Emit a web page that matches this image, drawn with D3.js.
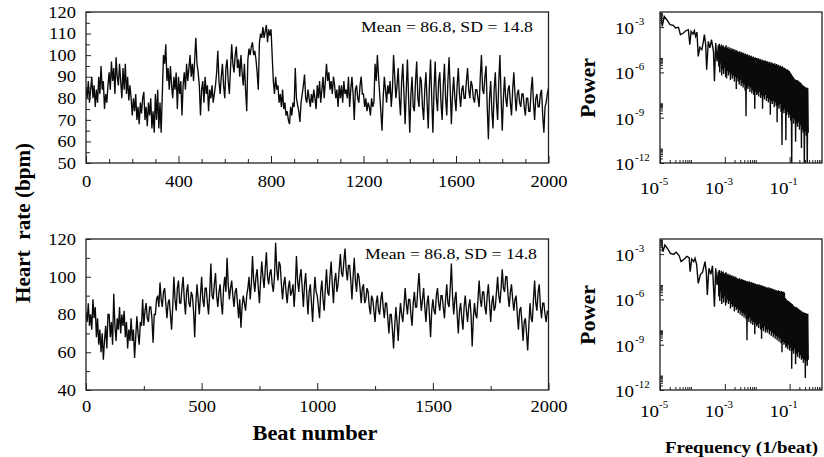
<!DOCTYPE html>
<html><head><meta charset="utf-8">
<script src="https://cdn.jsdelivr.net/npm/d3@7"></script>
<style>body{margin:0;background:#fff} svg{display:block}</style>
</head><body><svg id="c" width="824" height="457"></svg>
<script>
// ---------------- DATA ----------------
const beatStep = 5; // beats between stored samples
const hrTop = [
85,80,88,78,84,90,80,86,76,84, 78,90,82,95,84,88,75,82,78,86,
92,84,97,88,94,82,99,90,86,96, 88,80,94,84,96,82,90,79,86,80,
72,80,74,82,70,76,68,78,73,80, 83,70,76,67,78,72,80,66,74,64,
82,70,84,66,78,64,82,100,96,105, 88,94,84,95,86,80,90,84,92,75,
90,82,88,72,86,92,84,96,88,94, 100,90,96,88,98,108,96,92,86,72,
84,88,78,90,82,86,74,84,80,86, 78,82,86,92,102,88,82,90,96,86,
80,94,98,88,82,94,105,96,92,100, 104,94,98,90,100,92,86,96,84,74,
98,103,100,104,106,100,102,98,92,84, 106,110,108,113,108,111,114,106,112,109,
112,100,88,82,90,84,86,78,82,76, 84,75,78,72,74,70,68,76,72,78,
76,94,80,77,74,69,78,82,86,91, 80,78,84,80,76,82,78,84,80,75,
86,80,88,78,84,90,80,88,96,88, 92,84,88,82,90,86,80,84,76,86,
80,86,78,88,82,84,80,90,76,84, 90,82,70,84,86,80,78,86,90,82,
82,76,80,74,78,76,72,80,76,78, 96,88,100,90,82,74,65,80,90,84,
78,86,82,88,76,84,100,90,80,86, 94,80,72,88,96,82,68,84,98,80,
64,82,90,76,74,88,97,80,76,90, 88,76,70,84,92,78,66,86,98,80,
64,84,97,80,74,88,92,78,70,86, 96,80,72,88,99,84,68,82,90,80,
74,86,94,82,76,84,86,80,80,88, 94,84,80,88,86,80,78,84,84,80,
76,90,100,84,82,90,95,76,61,80, 88,74,66,84,92,78,70,88,100,80,
65,80,90,80,76,84,86,78,72,84, 92,82,74,82,84,78,76,82,82,76,
72,80,80,74,74,84,90,78,70,80, 82,76,76,82,84,72,64,76,78,82, 85];
const hrBottom = [
81,76,86,74,80,72,88,78,84,68, 78,64,72,60,70,56,66,74,62,80,
80,68,76,64,91,74,66,78,72,84, 70,80,74,82,68,76,62,72,66,78,
66,72,57,68,79,70,64,76,74,88, 74,82,86,78,76,84,84,78,65,80,
80,88,90,84,97,88,84,92,94,86, 78,86,88,80,72,84,100,88,82,94,
98,86,86,94,100,88,80,92,96,86, 84,92,90,82,68,86,96,88,80,90,
100,88,84,94,94,86,80,92,107,90, 88,96,102,90,84,92,96,86,80,94,
100,92,110,96,88,94,98,90,84,92, 94,86,78,88,73,84,90,86,82,90,
94,100,88,96,111,98,92,100,104,94, 86,98,108,100,94,104,113,100,96,102,
104,96,92,100,118,104,98,108,106,96, 88,96,100,92,86,94,98,90,92,96,
84,94,111,98,92,100,104,94,84,96, 102,90,80,92,96,86,76,90,100,92,
90,84,78,92,98,88,82,94,104,92, 90,100,108,96,86,98,102,92,96,104,
112,102,100,108,115,104,98,106,106,98, 88,100,110,98,92,102,100,94,86,94,
96,86,88,94,92,84,80,90,88,82, 76,86,90,82,80,88,92,84,78,86,
86,78,70,80,80,72,62,74,84,76, 66,78,86,80,76,84,94,86,80,88,
88,80,74,86,92,84,84,94,102,90, 82,88,94,84,76,86,90,80,68,82,
88,82,80,90,94,86,82,90,90,84, 78,88,96,86,84,94,107,90,80,88,
92,80,70,82,86,78,72,84,90,82, 76,84,88,80,63,78,86,80,78,88,
98,88,84,92,92,84,80,90,96,86, 76,86,90,82,84,92,100,90,86,94,
104,94,92,100,100,90,84,92,96,88, 82,88,90,80,72,82,84,76,66,76,
78,70,61,74,86,78,76,88,98,86, 82,92,96,84,78,86,86,80,76,82, 80];

const topXTicks = [0,400,800,1200,1600,2000];
const topXMinor = [100,200,300,500,600,700,900,1000,1100,1300,1400,1500,1700,1800,1900];
const topYTicks = [50,60,70,80,90,100,110,120];
const topYMinor = [55,65,75,85,95,105,115];
const botXTicks = [0,500,1000,1500,2000];
const botXMinor = [250,750,1250,1750];
const botYTicks = [40,60,80,100,120];
const botYMinor = [50,70,90,110];
const statsText = "Mean = 86.8, SD = 14.8";

// power spectra: log10 frequency / log10 power, low-frequency part
const specTopLowF = [-4.97,-4.95,-4.93,-4.87,-4.79,-4.69,-4.59,-4.52,-4.43,-4.37,-4.28,-4.2,-4.125,-4.08,-4.04,-3.98,-3.94,-3.9,-3.86,-3.82,-3.77,-3.71,-3.66,-3.63,-3.59,-3.56,-3.51,-3.46,-3.41,-3.35,-3.32,-3.28,-3.24];
const specTopLowP = [-2.07,-2.6,-2.95,-2.29,-2.51,-2.84,-2.88,-3.06,-3.02,-3.5,-3.39,-3.24,-3.17,-4.16,-3.28,-3.46,-3.24,-3.61,-3.33,-4.94,-4.34,-4.49,-3.94,-3.5,-4.16,-5.82,-3.94,-4.38,-3.83,-4.6,-6.59,-4.05,-5.27];
const specBotLowF = [-4.95,-4.93,-4.91,-4.85,-4.76,-4.68,-4.58,-4.5,-4.41,-4.35,-4.25,-4.17,-4.1,-4.07,-4.02,-3.96,-3.92,-3.87,-3.82,-3.75,-3.69,-3.61,-3.57,-3.54,-3.49,-3.43,-3.38,-3.32,-3.28,-3.24];
const specBotLowP = [-2.07,-2.5,-2.84,-2.4,-2.66,-2.95,-3.02,-2.88,-3.1,-3.5,-3.33,-3.15,-3.24,-4.16,-3.33,-3.5,-3.28,-3.68,-4.94,-4.34,-4.21,-3.5,-4.21,-5.71,-3.94,-4.34,-3.77,-6.48,-3.94,-5.05];
// dense part: frequency grid start/step (log10), peak and dip powers (log10)
const denseStart = -3.2, denseStep = 0.03;
const specTopHi = [
-4.2,-4.1,-4.3,-4.15,-4.25,-4.2,-4.35,-4.3,-4.2,-4.4, -4.3,-4.45,-4.35,-4.5,-4.4,-4.5,-4.45,-4.6,-4.5,-4.55,
-4.6,-4.65,-4.6,-4.7,-4.65,-4.75,-4.7,-4.8,-4.75,-4.85, -4.8,-4.9,-4.85,-4.95,-4.9,-5.0,-4.95,-5.05,-5.0,-5.05,
-5.1,-5.05,-5.15,-5.1,-5.2,-5.15,-5.2,-5.25,-5.2,-5.3, -5.25,-5.3,-5.35,-5.3,-5.4,-5.35,-5.4,-5.45,-5.4,-5.5,
-5.45,-5.55,-5.5,-5.6,-5.55,-5.65,-5.6,-5.7,-5.7,-5.75, -5.8,-5.8,-5.85,-5.9,-6.0,-6.1,-6.2,-6.3,-6.4,-6.45,
-6.5,-6.5,-6.55,-6.6,-6.65,-6.7,-6.8,-6.85,-6.9,-6.95, -7.0,-7.0,-7.05];
const specTopLo = [
-5.6,-6.0,-5.4,-6.2,-5.8,-6.1,-5.7,-6.3,-6.4,-5.9, -6.2,-6.0,-6.5,-6.1,-6.4,-6.2,-6.6,-6.3,-7.1,-6.4,
-6.6,-6.8,-6.5,-6.9,-6.7,-7.0,-6.8,-7.2,-8.9,-7.0, -7.1,-6.9,-7.3,-7.0,-7.4,-7.2,-7.5,-8.4,-7.3,-7.5,
-7.4,-7.6,-7.3,-7.7,-7.5,-8.4,-7.6,-7.8,-7.5,-7.9, -7.7,-8.0,-7.8,-8.8,-7.9,-8.1,-7.9,-8.3,-8.0,-8.2,
-9.3,-8.2,-8.4,-8.1,-8.6,-10.8,-8.5,-8.7,-8.4,-10.5, -8.8,-8.6,-9.0,-8.8,-9.2,-12.5,-9.0,-9.4,-9.1,-10.6,
-9.4,-9.6,-9.3,-9.8,-9.5,-11.0,-9.8,-10.0,-12.5,-9.9, -10.2,-12.5,-10.0];
const specBotHi = [
-4.15,-4.05,-4.25,-4.1,-4.2,-4.15,-4.3,-4.25,-4.2,-4.35, -4.3,-4.4,-4.35,-4.45,-4.4,-4.5,-4.45,-4.55,-4.5,-4.6,
-4.6,-4.65,-4.6,-4.7,-4.65,-4.7,-4.7,-4.75,-4.75,-4.8, -4.8,-4.85,-4.8,-4.9,-4.85,-4.9,-4.9,-4.95,-4.95,-5.0,
-5.0,-5.05,-5.0,-5.1,-5.05,-5.1,-5.1,-5.15,-5.15,-5.2, -5.2,-5.25,-5.2,-5.3,-5.25,-5.3,-5.3,-5.35,-5.35,-5.4,
-5.4,-5.45,-5.4,-5.45,-5.5,-5.45,-5.5,-5.5,-5.55,-5.9, -6.0,-6.05,-6.1,-6.15,-6.2,-6.25,-6.3,-6.4,-6.45,-6.5,
-6.5,-6.55,-6.6,-6.65,-6.7,-6.75,-6.8,-6.85,-6.85,-6.9, -6.9,-6.95,-6.95];
const specBotLo = [
-5.8,-6.1,-5.5,-6.3,-5.9,-6.2,-5.8,-6.4,-6.2,-6.0, -6.3,-6.1,-6.6,-6.3,-6.5,-6.4,-6.8,-6.5,-6.7,-6.6,
-6.9,-6.7,-7.0,-6.8,-7.1,-6.9,-7.2,-7.0,-7.3,-8.7, -7.3,-7.5,-7.2,-7.6,-7.4,-7.7,-7.5,-8.3,-7.6,-7.8,
-7.7,-7.9,-7.6,-8.0,-8.6,-7.9,-8.1,-7.8,-8.2,-8.0, -8.2,-8.0,-8.3,-8.1,-8.4,-8.2,-8.5,-8.3,-8.6,-8.4,
-8.7,-8.5,-8.8,-8.6,-8.9,-9.5,-8.8,-9.0,-8.9,-9.2, -9.1,-9.3,-9.0,-9.4,-9.2,-10.6,-9.4,-9.6,-9.3,-10.3,
-9.6,-9.8,-9.5,-9.9,-9.7,-10.0,-9.9,-10.2,-10.0,-11.2, -10.1,-10.4,-10.0];
const specXTicks = [-5,-3,-1];
const specYTicks = [-3,-6,-9,-12];

// ---------------- DRAWING ----------------
const FONT = '"Liberation Serif","Times New Roman",Times,serif';
const svg = d3.select("#c");
svg.append("rect").attr("width",824).attr("height",457).attr("fill","#fff");
let clipN = 0;
function stretch(sel, k){
  sel.each(function(){ const l=this.getComputedTextLength(); d3.select(this).attr("textLength", l*k).attr("lengthAdjust","spacingAndGlyphs"); });
}
function clip(g, x0, y0, w, h){
  const id = "clip"+(clipN++);
  g.append("clipPath").attr("id",id).append("rect").attr("x",x0).attr("y",y0).attr("width",w).attr("height",h);
  return "url(#"+id+")";
}

function seriesPanel(c){
  const x = d3.scaleLinear().domain([0,2000]).range([86,548.5]);
  const y = d3.scaleLinear().domain(c.yDomain).range([c.bottom, c.top]);
  const g = svg.append("g");
  const cp = clip(g, 86, c.top, 462.5, c.bottom-c.top);
  g.append("path").datum(c.values)
    .attr("d", d3.line().x((d,i)=>x(i*beatStep)).y(d=>y(d)))
    .attr("fill","none").attr("stroke","#0a0a0a").attr("stroke-width",1.35)
    .attr("stroke-linejoin","miter").attr("clip-path",cp);
  const styleAxis = s => { s.select(".domain").remove(); s.attr("font-family",FONT).attr("font-size",16.5); s.selectAll("line").attr("stroke","#222"); s.selectAll("text").attr("fill","#000"); };
  const gx = g.append("g").attr("transform",`translate(0,${c.bottom})`)
    .call(d3.axisBottom(x).tickValues(c.xTicks).tickSize(-7).tickPadding(c.xPad).tickFormat(d3.format("d"))).call(styleAxis);
  g.append("g").attr("transform",`translate(0,${c.bottom})`)
    .call(d3.axisBottom(x).tickValues(c.xMinor).tickSize(-4).tickFormat("")).call(styleAxis);
  const gy = g.append("g").attr("transform","translate(86,0)")
    .call(d3.axisLeft(y).tickValues(c.yTicks).tickSize(-5).tickPadding(10).tickFormat(d3.format("d"))).call(styleAxis);
  g.append("g").attr("transform","translate(86,0)")
    .call(d3.axisLeft(y).tickValues(c.yMinor).tickSize(-4).tickFormat("")).call(styleAxis);
  stretch(gx.selectAll("text"),1.12); stretch(gy.selectAll("text"),1.12);
  g.append("rect").attr("x",86).attr("y",c.top).attr("width",462.5).attr("height",c.bottom-c.top)
    .attr("fill","none").attr("stroke","#222").attr("stroke-width",1.3);
  const t = g.append("text").attr("x",c.statX).attr("y",c.statY).attr("font-family",FONT).attr("font-size",15.5).text(statsText);
  t.attr("textLength",172).attr("lengthAdjust","spacingAndGlyphs");
}

function spectrumPanel(c){
  const x = d3.scaleLog().domain([1e-5,1]).range([660,822]);
  const y = d3.scaleLog().domain([1e-12,1e-2]).range([c.bottom, c.top]);
  const g = svg.append("g");
  const pts = [];
  const n = Math.min(c.lowF.length, c.lowP.length);
  for(let i=0;i<n;i++) pts.push([Math.pow(10,c.lowF[i]), Math.pow(10,c.lowP[i])]);
  const m = Math.min(c.hi.length, c.lo.length);
  for(let i=0;i<m;i++){
    const f = denseStart + i*denseStep;
    pts.push([Math.pow(10,f), Math.pow(10,c.hi[i])]);
    pts.push([Math.pow(10,f+denseStep/2), Math.pow(10,c.lo[i])]);
  }
  const cp = clip(g, 660, c.top, 162, c.bottom-c.top);
  g.append("path").datum(pts).attr("d", d3.line().x(d=>x(d[0])).y(d=>y(d[1])))
    .attr("fill","none").attr("stroke","#0a0a0a").attr("stroke-width",1.4).attr("clip-path",cp);
  const styleAxis = s => { s.select(".domain").remove(); s.selectAll("line").attr("stroke","#222"); };
  const majX = specXTicks.map(e=>Math.pow(10,e));
  const minX = []; specXTicks.forEach(e=>{ for(let k=2;k<=9;k++) minX.push(k*Math.pow(10,e)); });
  const majY = specYTicks.map(e=>Math.pow(10,e));
  const minY = []; specYTicks.forEach(e=>{ for(let k=2;k<=9;k++) minY.push(k*Math.pow(10,e)); });
  g.append("g").attr("transform",`translate(0,${c.bottom})`).call(d3.axisBottom(x).tickValues(majX).tickSize(-6).tickFormat("")).call(styleAxis);
  g.append("g").attr("transform",`translate(0,${c.bottom})`).call(d3.axisBottom(x).tickValues(minX).tickSize(-3).tickFormat("")).call(styleAxis);
  g.append("g").attr("transform","translate(660,0)").call(d3.axisLeft(y).tickValues(majY).tickSize(-4).tickFormat("")).call(styleAxis);
  g.append("g").attr("transform","translate(660,0)").call(d3.axisLeft(y).tickValues(minY).tickSize(-3).tickFormat("")).call(styleAxis);
  g.append("rect").attr("x",660).attr("y",c.top).attr("width",162).attr("height",c.bottom-c.top)
    .attr("fill","none").attr("stroke","#222").attr("stroke-width",1.3);
  specXTicks.forEach(e=>{
    const px = x(Math.pow(10,e));
    const t1 = g.append("text").attr("x",px-1).attr("y",c.xLabY).attr("text-anchor","end").attr("font-family",FONT).attr("font-size",17).text("10");
    stretch(t1,1.12);
    g.append("text").attr("x",px-1).attr("y",c.xLabY-9).attr("font-family",FONT).attr("font-size",11).text("-"+(-e));
  });
  specYTicks.forEach(e=>{
    const py = y(Math.pow(10,e));
    const t1 = g.append("text").attr("x",615).attr("y",py+7).attr("font-family",FONT).attr("font-size",17).text("10");
    stretch(t1,1.12);
    g.append("text").attr("x",635).attr("y",py-2).attr("font-family",FONT).attr("font-size",11).text("-"+(-e));
  });
  g.append("text").attr("transform",`translate(595,${c.powerY}) rotate(-90)`).attr("text-anchor","middle")
    .attr("font-family",FONT).attr("font-weight","bold").attr("font-size",21).text("Power")
    .attr("textLength",60).attr("lengthAdjust","spacingAndGlyphs");
}

seriesPanel({values:hrTop, yDomain:[50,120], top:12, bottom:163, xTicks:topXTicks, xMinor:topXMinor, yTicks:topYTicks, yMinor:topYMinor, xPad:12.3, statX:361, statY:31.5});
seriesPanel({values:hrBottom, yDomain:[40,120], top:239, bottom:390, xTicks:botXTicks, xMinor:botXMinor, yTicks:botYTicks, yMinor:botYMinor, xPad:10.3, statX:365, statY:258.5});
spectrumPanel({lowF:specTopLowF, lowP:specTopLowP, hi:specTopHi, lo:specTopLo, top:12, bottom:163, xLabY:194, powerY:88});
spectrumPanel({lowF:specBotLowF, lowP:specBotLowP, hi:specBotHi, lo:specBotLo, top:239, bottom:390, xLabY:417, powerY:315});

svg.append("text").attr("transform","translate(30,223) rotate(-90)").attr("text-anchor","middle")
  .attr("font-family",FONT).attr("font-weight","bold").attr("font-size",21).attr("xml:space","preserve").text("Heart  rate (bpm)")
  .attr("textLength",160).attr("lengthAdjust","spacingAndGlyphs");
svg.append("text").attr("x",315).attr("y",440).attr("text-anchor","middle")
  .attr("font-family",FONT).attr("font-weight","bold").attr("font-size",21).text("Beat number")
  .attr("textLength",125).attr("lengthAdjust","spacingAndGlyphs");
svg.append("text").attr("x",741.5).attr("y",453).attr("text-anchor","middle")
  .attr("font-family",FONT).attr("font-weight","bold").attr("font-size",17).text("Frequency (1/beat)")
  .attr("textLength",153).attr("lengthAdjust","spacingAndGlyphs");
</script></body></html>
